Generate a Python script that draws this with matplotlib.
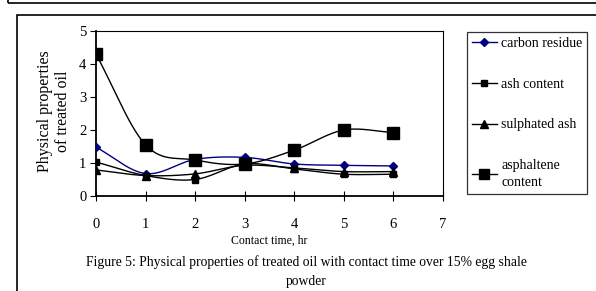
import numpy as np
import matplotlib
matplotlib.use("Agg")
import matplotlib.pyplot as plt
from matplotlib.patches import Rectangle
from matplotlib.lines import Line2D

plt.rcParams['font.family'] = ['Liberation Serif', 'DejaVu Serif']

contact_time = [0, 1, 2, 3, 4, 5, 6]
carbon_residue = [1.48, 0.68, 1.11, 1.17, 0.97, 0.93, 0.91]
ash_content = [1.03, 0.62, 0.50, 0.97, 0.82, 0.66, 0.66]
sulphated_ash = [0.79, 0.62, 0.67, 0.93, 0.85, 0.74, 0.74]
asphaltene_content = [4.3, 1.55, 1.09, 0.97, 1.39, 2.0, 1.92]


def smooth(x, y, n=30):
    # Excel-style smoothed line (Catmull-Rom through the points)
    x = np.asarray(x, float)
    y = np.asarray(y, float)
    px = np.concatenate([[2 * x[0] - x[1]], x, [2 * x[-1] - x[-2]]])
    py = np.concatenate([[2 * y[0] - y[1]], y, [2 * y[-1] - y[-2]]])
    xs, ys = [], []
    t = np.linspace(0, 1, n)
    for i in range(1, len(px) - 2):
        for P, out in ((px[i - 1:i + 3], xs), (py[i - 1:i + 3], ys)):
            a, b, c, d = P
            out.extend(0.5 * ((2 * b) + (-a + c) * t + (2 * a - 5 * b + 4 * c - d) * t ** 2
                              + (-a + 3 * b - 3 * c + d) * t ** 3))
    return xs, ys


W, H = 596, 291
fig = plt.figure(figsize=(W / 100, H / 100), dpi=100)
ax = fig.add_axes([96 / W, 1 - 196 / H, (443 - 96) / W, (196 - 31) / H])

series = [
    (carbon_residue, 'carbon residue', '#000080', 'D', 4, '#000080'),
    (ash_content, 'ash content', 'black', 's', 4.5, 'black'),
    (sulphated_ash, 'sulphated ash', 'black', '^', 5.5, 'black'),
    (asphaltene_content, 'asphaltene\ncontent', 'black', 's', 8.5, 'black'),
]
handles = []
for vals, name, col, mk, ms, mc in series:
    sx, sy = smooth(contact_time, vals)
    ax.plot(sx, sy, color=col, lw=1.0, zorder=2)
    ax.plot(contact_time, vals, ls='none', marker=mk, ms=ms, color=mc, zorder=3)
    handles.append(Line2D([], [], color=col, lw=1.0, marker=mk, ms=min(ms, 7), label=name))

ax.set_xlim(0, 7)
ax.set_ylim(0, 5)
ax.set_xticks(range(8))
ax.set_yticks(range(6))
ax.tick_params(axis='x', direction='inout', length=7, pad=12, labelsize=10.5)
ax.tick_params(axis='y', direction='out', length=4, pad=3, labelsize=10.5)
for s in ['left', 'bottom']:
    ax.spines[s].set_linewidth(1.3)
for s in ['top', 'right']:
    ax.spines[s].set_linewidth(0.8)
ax.set_xlabel('Contact time, hr', fontsize=8.5, labelpad=3)
fig.text(54 / W, 1 - 111 / H, 'Physical properties\nof treated oil', rotation=90,
         ha='center', va='center', fontsize=11.5, linespacing=1.2)

leg = fig.legend(handles=handles, loc='upper left', bbox_to_anchor=(467 / W, 1 - 32 / H),
                 fontsize=10, frameon=True, fancybox=False, edgecolor='black',
                 labelspacing=2.0, handlelength=1.8, handletextpad=0.3,
                 borderpad=0.35, borderaxespad=0)
leg.get_texts()[3].set_linespacing(1.35)
leg.get_frame().set_linewidth(0.9)

fig.text(306 / W, 1 - 262 / H,
         'Figure 5: Physical properties of treated oil with contact time over 15% egg shale',
         ha='center', va='center', fontsize=9.8)
fig.text(306 / W, 1 - 281 / H, 'powder', ha='center', va='center', fontsize=9.8)

# page frames
fig.add_artist(Rectangle((17 / W, -0.1), 1.0, 1 - 15 / H + 0.1, transform=fig.transFigure,
                         fill=False, ec='black', lw=1.2, clip_on=False))
fig.add_artist(Rectangle((8 / W, 1 - 3 / H), 1.0, 0.2, transform=fig.transFigure,
                         fill=False, ec='black', lw=1.2, clip_on=False))

fig.savefig('out.png', dpi=100)
